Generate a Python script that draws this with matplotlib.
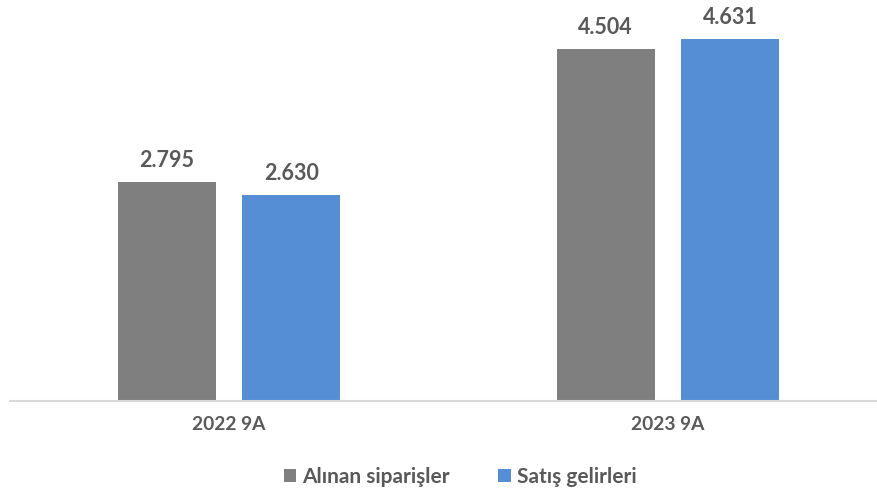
import matplotlib
matplotlib.use("Agg")
import matplotlib.pyplot as plt
import numpy as np

# values
categories = ["2022 9A", "2023 9A"]
siparis = [2795, 4504]
gelir = [2630, 4631]
series_names = ["Alınan siparişler", "Satış gelirleri"]
value_labels_1 = ["2.795", "4.504"]
value_labels_2 = ["2.630", "4.631"]

gray = "#7f7f7f"
blue = "#558ed5"
txt = "#595959"

plt.rcParams['font.family'] = ['Lato', 'DejaVu Sans']

W, H = 878, 491
fig = plt.figure(figsize=(W / 100, H / 100), dpi=100)
left = 9.5 / W
bottom = 1 - 401 / H
top = 1 - 10 / H
ax = fig.add_axes([left, bottom, 1 - left, top - bottom])

x = np.arange(len(categories))
bw = 0.2232
off = 0.142
b1 = ax.bar(x - off, siparis, bw, color=gray, label=series_names[0])
b2 = ax.bar(x + off, gelir, bw, color=blue, label=series_names[1])

for bars, labs in ((b1, value_labels_1), (b2, value_labels_2)):
    for r, lab in zip(bars, labs):
        ax.annotate(lab, (r.get_x() + r.get_width() / 2, r.get_height()),
                    xytext=(0, 8), textcoords="offset points",
                    ha="center", va="bottom", fontsize=15.5, fontweight="bold", color=txt)

ax.set_ylim(0, 5000)
ax.set_xlim(-0.5, 1.5 - 9.5 / 439)
ax.set_xticks(x)
ax.set_xticklabels(categories, fontsize=13.8, fontweight="bold", color=txt)
ax.tick_params(axis="x", length=0, pad=11)
ax.set_yticks([])
for s in ["top", "right", "left"]:
    ax.spines[s].set_visible(False)
ax.spines["bottom"].set_color("#d9d9d9")
ax.spines["bottom"].set_linewidth(1.5)

leg = fig.legend(loc="center", bbox_to_anchor=(0.524, 1 - 477 / H), ncol=2,
                 frameon=False, handlelength=0.6, handleheight=0.6,
                 handletextpad=0.3, columnspacing=2.3,
                 prop={"size": 15, "weight": "bold"})
for t in leg.get_texts():
    t.set_color(txt)

fig.savefig("out.png", dpi=100)
